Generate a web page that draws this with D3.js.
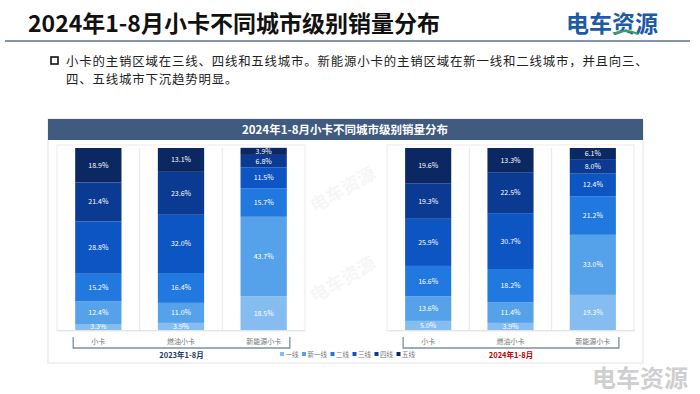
<!DOCTYPE html>
<html>
<head>
<meta charset="utf-8">
<script src="https://cdn.jsdelivr.net/npm/d3@7"></script>
<style>
  body { margin: 0; background: #fff; }
  svg { display: block; font-family: "Noto Sans CJK SC", "Noto Sans", sans-serif; }
</style>
</head>
<body>
<div class="board"></div>
<script>
var width = 700, height = 394;

// data (share of sales, %)
var cities = ['一线', '新一线', '二线', '三线', '四线', '五线'];
var categories = ['小卡', '燃油小卡', '新能源小卡'];
var periods = ['2023年1-8月', '2024年1-8月'];

var xiaoka2023 = [3.3, 12.4, 15.2, 28.8, 21.4, 18.9];
var ranyou2023 = [3.9, 11.0, 16.4, 32.0, 23.6, 13.1];
var xny2023 = [18.5, 43.7, 15.7, 11.5, 6.8, 3.9];

var xiaoka2024 = [5.0, 13.6, 16.6, 25.9, 19.3, 19.6];
var ranyou2024 = [3.9, 11.4, 18.2, 30.7, 22.5, 13.3];
var xny2024 = [19.3, 33.0, 21.2, 12.4, 8.0, 6.1];

var colors = ['#86bdf0', '#55a2ea', '#2179e0', '#0c55c2', '#0a3a92', '#0b2862'];

var svg = d3.select('.board').append('svg')
  .attr('width', width)
  .attr('height', height);

// faint watermarks, only in the empty gap between the two groups
var marks = [[346, 195], [346, 285]];
marks.forEach(function(m) {
  svg.append('text')
    .attr('transform', 'translate(' + m[0] + ',' + m[1] + ') rotate(-30)')
    .attr('text-anchor', 'middle')
    .attr('font-size', 18)
    .attr('font-weight', 'bold')
    .attr('fill', '#000')
    .attr('opacity', 0.03)
    .text('电车资源');
});

// header
svg.append('text')
  .attr('x', 28).attr('y', 32)
  .attr('font-size', 23).attr('font-weight', 'bold').attr('fill', '#111')
  .text('2024年1-8月小卡不同城市级别销量分布');

svg.append('text')
  .attr('x', 566).attr('y', 32)
  .attr('font-size', 23).attr('font-weight', 'bold').attr('fill', '#1d5aa8')
  .text('电车资源');
svg.append('path')
  .attr('d', 'M614,34 Q626,28 638,34')
  .attr('fill', 'none').attr('stroke', '#3aa655').attr('stroke-width', 2);

svg.append('line')
  .attr('x1', 5).attr('x2', 690).attr('y1', 41).attr('y2', 41)
  .attr('stroke', '#5d7091').attr('stroke-width', 1.5);

// bullet text
svg.append('rect')
  .attr('x', 51).attr('y', 57).attr('width', 7).attr('height', 7)
  .attr('fill', 'none').attr('stroke', '#111').attr('stroke-width', 1.6);
svg.append('text')
  .attr('x', 66).attr('y', 65.5)
  .attr('font-size', 12.4).attr('letter-spacing', 0.85).attr('fill', '#222')
  .text('小卡的主销区域在三线、四线和五线城市。新能源小卡的主销区域在新一线和二线城市，并且向三、');
svg.append('text')
  .attr('x', 66).attr('y', 83.8)
  .attr('font-size', 12.4).attr('letter-spacing', 0.85).attr('fill', '#222')
  .text('四、五线城市下沉趋势明显。');

// chart panel
svg.append('rect')
  .attr('x', 48).attr('y', 119).attr('width', 595).attr('height', 244)
  .attr('fill', 'none')
  .attr('stroke', '#e4e4e4');
svg.append('rect')
  .attr('x', 48).attr('y', 119).attr('width', 595).attr('height', 21)
  .attr('fill', '#405a80');
svg.append('text')
  .attr('x', 345).attr('y', 134)
  .attr('text-anchor', 'middle')
  .attr('font-size', 11.5).attr('font-weight', 'bold').attr('fill', '#fff')
  .text('2024年1-8月小卡不同城市级别销量分布');

var y = d3.scaleLinear().domain([0, 100]).range([330, 148]);

var stack = d3.stack().keys(cities);

var groups = [
  {period: periods[0], range: [57, 305], rows: [xiaoka2023, ranyou2023, xny2023], labelColor: '#1f3864'},
  {period: periods[1], range: [387, 634], rows: [xiaoka2024, ranyou2024, xny2024], labelColor: '#c00000'}
];

groups.forEach(function(g) {
  var x = d3.scaleBand().domain(categories).range(g.range)
    .paddingInner(0.44).paddingOuter(0.22);

  var table = categories.map(function(c, i) {
    var row = {cat: c};
    cities.forEach(function(k, j) { row[k] = g.rows[i][j]; });
    return row;
  });

  var gg = svg.append('g');

  // subchart frame
  gg.append('rect')
    .attr('x', g.range[0]).attr('y', 145)
    .attr('width', g.range[1] - g.range[0]).attr('height', 186)
    .attr('fill', 'none').attr('stroke', '#ececec');

  // separators between bars
  var sep = categories.slice(1).map(function(c) { return x(c) - x.step() * x.paddingInner() / 2; });
  gg.selectAll('.sep').data(sep).enter().append('line')
    .attr('x1', function(d) { return d; }).attr('x2', function(d) { return d; })
    .attr('y1', y(100)).attr('y2', y(0))
    .attr('stroke', '#e8e8e8');

  var series = stack(table);

  var layer = gg.selectAll('.layer').data(series).enter().append('g')
    .attr('fill', function(d, i) { return colors[i]; });

  layer.selectAll('rect').data(function(d) { return d; }).enter().append('rect')
    .attr('x', function(d) { return x(d.data.cat); })
    .attr('y', function(d) { return y(d[1]); })
    .attr('width', x.bandwidth())
    .attr('height', function(d) { return y(d[0]) - y(d[1]); });

  layer.selectAll('text').data(function(d) {
      return d.map(function(p) { p.key = d.key; return p; });
    }).enter().append('text')
    .attr('x', function(d) { return x(d.data.cat) + x.bandwidth() / 2; })
    .attr('y', function(d) { return (y(d[0]) + y(d[1])) / 2 + 2.5; })
    .attr('text-anchor', 'middle')
    .attr('font-size', 7)
    .attr('fill', '#fff')
    .text(function(d) { return d.data[d.key].toFixed(1) + '%'; });

  // category axis
  var axis = gg.append('g').attr('transform', 'translate(0,' + y(0) + ')')
    .call(d3.axisBottom(x).tickSize(0).tickPadding(9));
  axis.select('.domain').attr('stroke', '#e4e4e4');
  axis.selectAll('text').attr('font-size', 7).attr('fill', '#777')
    .attr('font-family', '"Noto Sans CJK SC", sans-serif');

  // bracket
  var bx0 = x(categories[0]) - 2, bx1 = x(categories[2]) + x.bandwidth() + 3;
  gg.append('path')
    .attr('d', 'M' + bx0 + ',337 V348 H' + bx1 + ' V337')
    .attr('fill', 'none').attr('stroke', '#7d8ea8').attr('stroke-width', 1.3);

  gg.append('text')
    .attr('x', (bx0 + bx1) / 2).attr('y', 358)
    .attr('text-anchor', 'middle')
    .attr('font-size', 7.5).attr('font-weight', 'bold').attr('fill', g.labelColor)
    .text(g.period);
});

// legend
var legend = svg.append('g').attr('transform', 'translate(280,357)');
var lx = 0;
cities.forEach(function(c, i) {
  legend.append('rect').attr('x', lx).attr('y', -5).attr('width', 4).attr('height', 4).attr('fill', colors[i]);
  legend.append('text').attr('x', lx + 5.5).attr('y', 0)
    .attr('font-size', 6.5).attr('fill', '#777').text(c);
  lx += 5.5 + c.length * 6.5 + 3.5;
});

// bottom-right logo
svg.append('text')
  .attr('x', 688).attr('y', 387)
  .attr('text-anchor', 'end')
  .attr('font-size', 24).attr('font-weight', 'bold').attr('fill', '#cfcfcf')
  .text('电车资源');
</script>
</body>
</html>
